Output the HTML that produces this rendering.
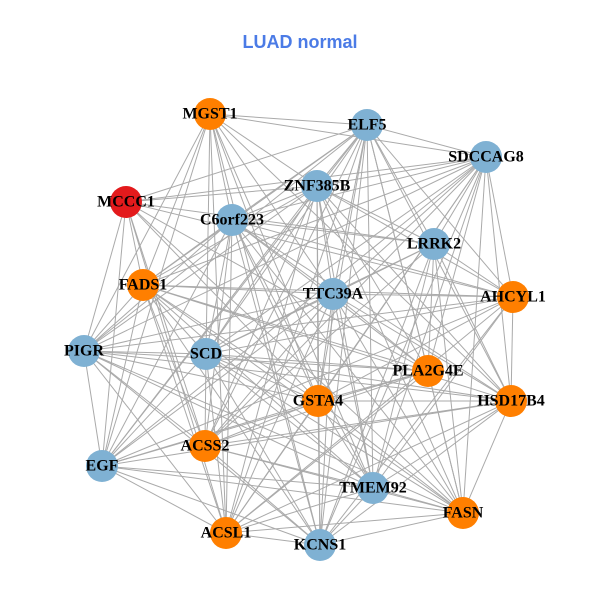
<!DOCTYPE html>
<html><head><meta charset="utf-8"><style>
body{margin:0;background:#fff;width:600px;height:600px;overflow:hidden}
svg text{font-family:"Liberation Serif",serif;font-weight:bold;font-size:16px;fill:#000;text-anchor:middle;dominant-baseline:central}
</style></head><body>
<svg id="s" width="600" height="600" xmlns="http://www.w3.org/2000/svg">
<text x="300" y="42" style="font-family:'Liberation Sans',sans-serif;font-size:18px;fill:#4b7be6">LUAD normal</text>
<g id="e" stroke="#aaaaaa" stroke-width="1"></g>
<g id="n"></g>
<g id="t">
<text x="210" y="114">MGST1</text>
<text x="367" y="125">ELF5</text>
<text x="486" y="157">SDCCAG8</text>
<text x="126" y="202">MCCC1</text>
<text x="317" y="186">ZNF385B</text>
<text x="232" y="220">C6orf223</text>
<text x="434" y="244">LRRK2</text>
<text x="143" y="285">FADS1</text>
<text x="333" y="294">TTC39A</text>
<text x="513" y="297">AHCYL1</text>
<text x="84" y="351">PIGR</text>
<text x="206" y="354">SCD</text>
<text x="428" y="371">PLA2G4E</text>
<text x="318" y="401">GSTA4</text>
<text x="511" y="401">HSD17B4</text>
<text x="205" y="446">ACSS2</text>
<text x="102" y="466">EGF</text>
<text x="373" y="488">TMEM92</text>
<text x="463" y="513">FASN</text>
<text x="226" y="533">ACSL1</text>
<text x="320" y="545">KCNS1</text>
</g>
</svg>
<script>
var N=[[210,114,'o'],[367,125,'b'],[486,157,'b'],[126,202,'r'],[317,186,'b'],[232,220,'b'],[434,244,'b'],[143,285,'o'],[333,294,'b'],[513,297,'o'],[84,351,'b'],[206,354,'b'],[428,371,'o'],[318,401,'o'],[511,401,'o'],[205,446,'o'],[102,466,'b'],[373,488,'b'],[463,513,'o'],[226,533,'o'],[320,545,'b']];
var C={o:'#ff7f00',b:'#7fb1d3',r:'#e31a1c'};
var ns='http://www.w3.org/2000/svg',e=document.getElementById('e'),g=document.getElementById('n');
for(var i=0;i<N.length;i++)for(var j=i+1;j<N.length;j++){
 if((i*7+j*3)%9==0)continue;
 var l=document.createElementNS(ns,'line');
 l.setAttribute('x1',N[i][0]);l.setAttribute('y1',N[i][1]);l.setAttribute('x2',N[j][0]);l.setAttribute('y2',N[j][1]);e.appendChild(l);}
N.forEach(function(p){var c=document.createElementNS(ns,'circle');c.setAttribute('cx',p[0]);c.setAttribute('cy',p[1]);c.setAttribute('r',16);c.setAttribute('fill',C[p[2]]);g.appendChild(c);});
</script>
</body></html>
